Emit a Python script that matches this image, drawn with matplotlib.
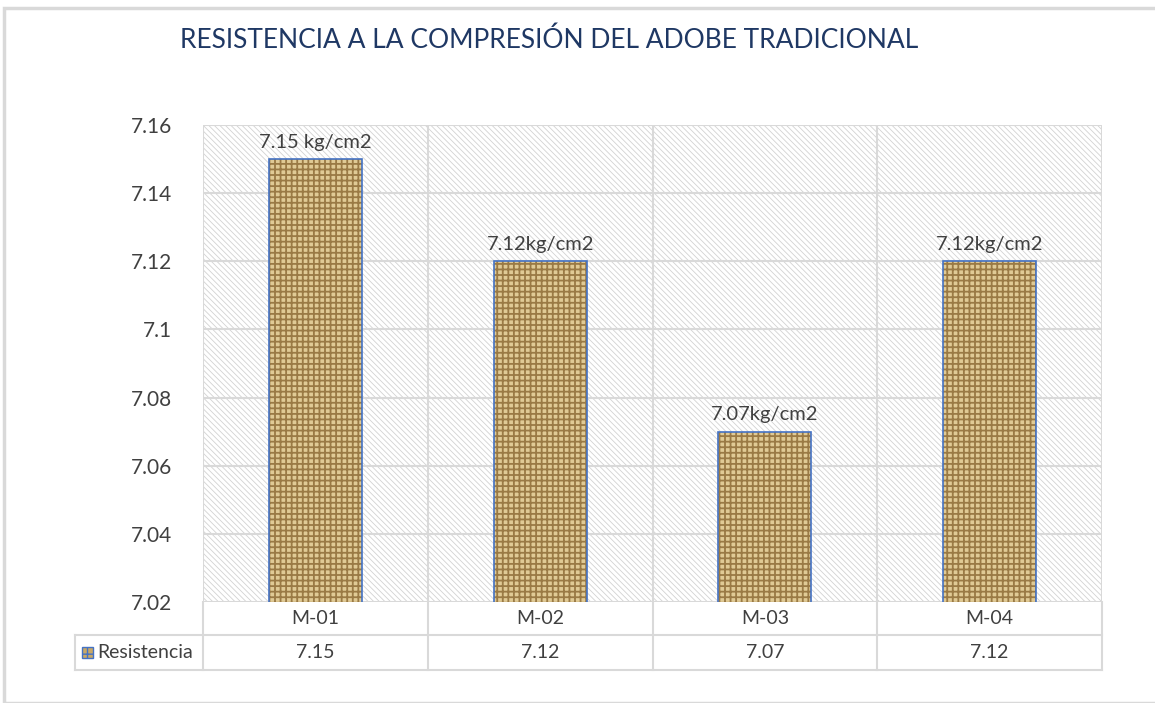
import matplotlib
matplotlib.use("Agg")
import matplotlib.pyplot as plt
from matplotlib.patches import Rectangle
from matplotlib.lines import Line2D
import numpy as np

categories = ["M-01", "M-02", "M-03", "M-04"]
values = [7.15, 7.12, 7.07, 7.12]
bar_labels = ["7.15 kg/cm2", "7.12kg/cm2", "7.07kg/cm2", "7.12kg/cm2"]
value_labels = ["7.15", "7.12", "7.07", "7.12"]
yticks = [7.02, 7.04, 7.06, 7.08, 7.10, 7.12, 7.14, 7.16]
ytick_labels = ["7.02", "7.04", "7.06", "7.08", "7.1", "7.12", "7.14", "7.16"]
series_name = "Resistencia"
title = "RESISTENCIA A LA COMPRESIÓN DEL ADOBE TRADICIONAL"

FONT = ["Lato", "DejaVu Sans"]
plt.rcParams["font.family"] = FONT
TXT = "#404040"
GRID = "#D9D9D9"

W, H = 1155, 703
fig = plt.figure(figsize=(W / 100, H / 100), dpi=100)

# chart frame
fig.patches.append(Rectangle((4 / W, 0.0), 1.2, 1 - 8 / H, transform=fig.transFigure,
                             fill=False, edgecolor=GRID, linewidth=2.5))

L, R, T, B = 203, 1102, 125, 602
ax = fig.add_axes([L / W, 1 - B / H, (R - L) / W, (B - T) / H])
ax.set_facecolor("white")

x = np.arange(len(categories))
ax.set_xlim(-0.5, len(categories) - 0.5)
ax.set_ylim(7.02, 7.16)

# hatched background
plt.rcParams["hatch.linewidth"] = 0.6
bg = Rectangle((0, 0), 1, 1, transform=ax.transAxes, facecolor="white",
               edgecolor="#D2D2D2", hatch="\\" * 6, linewidth=0, zorder=0)
ax.add_patch(bg)

ax.set_yticks(yticks)
ax.set_yticklabels(ytick_labels, fontsize=15, color=TXT)
ax.tick_params(axis="y", length=0, pad=22)
ax.set_xticks([])
for y in yticks:
    ax.axhline(y, color=GRID, linewidth=1.5, zorder=1)
for xb in np.arange(-0.5, len(categories), 1.0):
    ax.axvline(xb, color=GRID, linewidth=1.5, zorder=1)
for s in ax.spines.values():
    s.set_visible(False)

bw = 0.413
plt.rcParams["hatch.linewidth"] = 1.3
ax.bar(x, values, width=bw, bottom=0, color="#E0CA95", edgecolor="#9A7A45",
       hatch="+++", linewidth=0, zorder=2)
ax.bar(x, values, width=bw, bottom=0, fill=False, edgecolor="#4472C4",
       linewidth=1.2, zorder=3)

for xi, v, lab in zip(x, values, bar_labels):
    ax.annotate(lab, (xi, v), xytext=(0, 6), textcoords="offset points",
                ha="center", va="bottom", fontsize=14.5, color=TXT)

# data table
ax_h = B - T
r1 = -(635 - B) / ax_h
r2 = -(670 - B) / ax_h
lx = (75 - L) / (R - L)
tr = ax.get_xaxis_transform()
kw = dict(color=GRID, linewidth=1.5, clip_on=False)
ax.add_line(Line2D([lx, 1], [r1, r1], transform=ax.transAxes, **kw))
ax.add_line(Line2D([lx, 1], [r2, r2], transform=ax.transAxes, **kw))
ax.add_line(Line2D([lx, lx], [r1, r2], transform=ax.transAxes, **kw))
for xb in np.arange(-0.5, len(categories), 1.0):
    ax.add_line(Line2D([xb, xb], [0, r2], transform=tr, **kw))

for xi, c, vl in zip(x, categories, value_labels):
    ax.text(xi, r1 / 2, c, transform=tr, ha="center", va="center",
            fontsize=14, color=TXT)
    ax.text(xi, (r1 + r2) / 2, vl, transform=tr, ha="center", va="center",
            fontsize=14, color=TXT)

# legend key in table
kx = (82 - L) / (R - L)
kw_ = 11 / (R - L)
kh = 11 / ax_h
ym = (r1 + r2) / 2
plt.rcParams["hatch.linewidth"] = 1.0
ax.add_patch(Rectangle((kx, ym - kh / 2), kw_, kh, transform=ax.transAxes,
                       facecolor="#C9A865", edgecolor="#4472C4", hatch="++",
                       linewidth=1, clip_on=False, zorder=4))
ax.text((97 - L) / (R - L), ym, series_name, transform=ax.transAxes,
        ha="left", va="center", fontsize=14, color=TXT)

fig.text(180 / W, 1 - 40 / H, title, ha="left", va="center", fontsize=19,
         color="#1F3864")

fig.savefig("out.png", dpi=100)
